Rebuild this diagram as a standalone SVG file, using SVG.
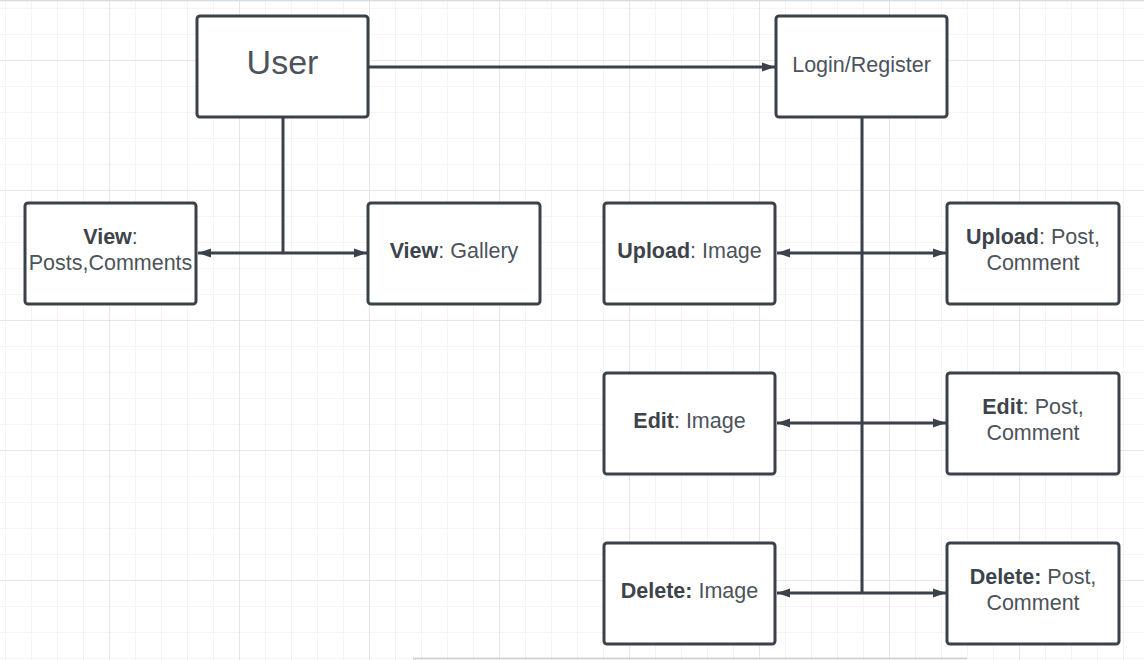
<svg xmlns="http://www.w3.org/2000/svg" width="1144" height="660" viewBox="0 0 1144 660">
  <style>
    .box { fill: #ffffff; stroke: #3a414a; stroke-width: 3; }
    .conn { fill: none; stroke: #3a414a; stroke-width: 3; }
    text { font-family: "Liberation Sans", Arial, sans-serif; font-size: 21.5px; fill: #4d535b; text-anchor: middle; }
    .b { font-weight: bold; fill: #3d434b; }
    .big { font-size: 34px; }
  </style>
  <defs>
    <pattern id="minor" patternUnits="userSpaceOnUse" x="5" y="8" width="26" height="26">
      <path d="M0 0 V26 M0 0 H26" stroke="#ececec" stroke-width="1.2" fill="none"/>
    </pattern>
    <pattern id="major" patternUnits="userSpaceOnUse" x="109" y="60" width="130" height="130">
      <path d="M0 0 V130 M0 0 H130" stroke="#dcdcdc" stroke-width="1.2" fill="none"/>
    </pattern>
    <marker id="arr" markerUnits="userSpaceOnUse" markerWidth="14" markerHeight="12" viewBox="0 0 14 12" refX="13" refY="6" orient="auto-start-reverse">
      <path d="M0 1.5 L13 6 L0 10.5 Z" fill="#3a414a"/>
    </marker>
  </defs>

  <rect width="1144" height="660" fill="#ffffff"/>
  <rect width="1144" height="660" fill="url(#minor)"/>
  <rect width="1144" height="660" fill="url(#major)"/>
  <line x1="0" y1="0.5" x2="1144" y2="0.5" stroke="#d8dbe0" stroke-width="1.5"/>
  <line x1="413" y1="658.5" x2="967" y2="658.5" stroke="#d4d4d4" stroke-width="2"/>

  <g id="connectors">
    <line class="conn" x1="368" y1="67" x2="775" y2="67" marker-end="url(#arr)"/>
    <line class="conn" x1="283" y1="117" x2="283" y2="253"/>
    <line class="conn" x1="198" y1="253" x2="367" y2="253" marker-start="url(#arr)" marker-end="url(#arr)"/>
    <line class="conn" x1="862" y1="117" x2="862" y2="593"/>
    <line class="conn" x1="777" y1="253" x2="946" y2="253" marker-start="url(#arr)" marker-end="url(#arr)"/>
    <line class="conn" x1="777" y1="423" x2="946" y2="423" marker-start="url(#arr)" marker-end="url(#arr)"/>
    <line class="conn" x1="777" y1="593" x2="946" y2="593" marker-start="url(#arr)" marker-end="url(#arr)"/>
  </g>

  <g id="user">
    <rect class="box" x="197" y="16" width="171" height="101" rx="3"/>
    <text class="big" x="282.5" y="74">User</text>
  </g>
  <g id="login">
    <rect class="box" x="776" y="16" width="171" height="101" rx="3"/>
    <text x="861.5" y="72">Login/Register</text>
  </g>
  <g id="view-posts">
    <rect class="box" x="25" y="203" width="171" height="101" rx="3"/>
    <text x="110.5" y="244"><tspan class="b">View</tspan>:</text>
    <text x="110.5" y="270">Posts,Comments</text>
  </g>
  <g id="view-gallery">
    <rect class="box" x="368" y="203" width="172" height="101" rx="3"/>
    <text x="454" y="258"><tspan class="b">View</tspan>: Gallery</text>
  </g>
  <g id="upload-image">
    <rect class="box" x="604" y="203" width="171" height="101" rx="3"/>
    <text x="689.5" y="258"><tspan class="b">Upload</tspan>: Image</text>
  </g>
  <g id="upload-post">
    <rect class="box" x="947" y="203" width="172" height="101" rx="3"/>
    <text x="1033" y="244"><tspan class="b">Upload</tspan>: Post,</text>
    <text x="1033" y="270">Comment</text>
  </g>
  <g id="edit-image">
    <rect class="box" x="604" y="373" width="171" height="101" rx="3"/>
    <text x="689.5" y="428"><tspan class="b">Edit</tspan>: Image</text>
  </g>
  <g id="edit-post">
    <rect class="box" x="947" y="373" width="172" height="101" rx="3"/>
    <text x="1033" y="414"><tspan class="b">Edit</tspan>: Post,</text>
    <text x="1033" y="440">Comment</text>
  </g>
  <g id="delete-image">
    <rect class="box" x="604" y="543" width="171" height="101" rx="3"/>
    <text x="689.5" y="598"><tspan class="b">Delete:</tspan> Image</text>
  </g>
  <g id="delete-post">
    <rect class="box" x="947" y="543" width="172" height="101" rx="3"/>
    <text x="1033" y="584"><tspan class="b">Delete:</tspan> Post,</text>
    <text x="1033" y="610">Comment</text>
  </g>
</svg>
